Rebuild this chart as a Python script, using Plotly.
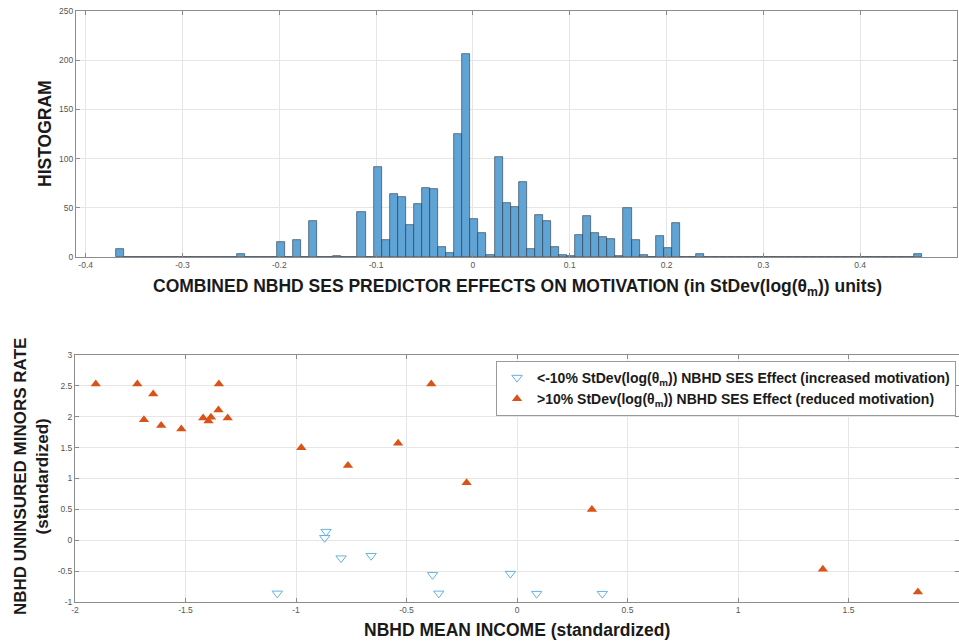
import plotly.graph_objects as go

# ---------------- data ----------------
# Histogram: 100 equal-width bins
bin_start = -0.369
bin_width = 0.008325
hist_counts = [
    8, 0, 0, 0, 0, 0, 0, 0, 0, 0,
    0, 0, 0, 0, 0, 3, 0, 0, 0, 0,
    15, 0, 17, 0, 37, 0, 0, 1, 0, 0,
    46, 0, 91, 17, 64, 61, 33, 54, 70, 69,
    10, 4, 125, 206, 39, 24, 2, 102, 55, 51,
    76, 8, 43, 37, 10, 2, 1, 22, 42, 24,
    20, 18, 1, 50, 17, 2, 0, 21, 9, 35,
    0, 0, 3, 0, 0, 0, 0, 0, 0, 0,
    0, 0, 0, 0, 0, 0, 0, 0, 0, 0,
    0, 0, 0, 0, 0, 0, 0, 0, 0, 3,
]

# Scatter: increased motivation (blue, down triangles)
inc_income = [-1.085, -0.864, -0.870, -0.796, -0.660, -0.382, -0.354, -0.030, 0.089, 0.386]
inc_uninsured = [-0.86, 0.14, 0.04, -0.29, -0.25, -0.56, -0.86, -0.54, -0.865, -0.865]

# Scatter: reduced motivation (orange, up triangles)
red_income = [-1.906, -1.718, -1.646, -1.688, -1.610, -1.519, -1.420, -1.396, -1.385,
              -1.349, -1.351, -1.309, -0.976, -0.765, -0.538, -0.388, -0.228, 0.339,
              1.384, 1.814]
red_uninsured = [2.53, 2.53, 2.37, 1.95, 1.86, 1.80, 1.98, 1.93, 1.99,
                 2.53, 2.11, 1.98, 1.50, 1.21, 1.57, 2.53, 0.93, 0.50,
                 -0.47, -0.84]

# tick labels
hist_xticks = [-0.4, -0.3, -0.2, -0.1, 0, 0.1, 0.2, 0.3, 0.4, 0.5]
hist_xlabels = ["-0.4", "-0.3", "-0.2", "-0.1", "0", "0.1", "0.2", "0.3", "0.4", "0.5"]
hist_yticks = [0, 50, 100, 150, 200, 250]
sc_xticks = [-2, -1.5, -1, -0.5, 0, 0.5, 1, 1.5, 2]
sc_xlabels = ["-2", "-1.5", "-1", "-0.5", "0", "0.5", "1", "1.5", "2"]
sc_yticks = [-1, -0.5, 0, 0.5, 1, 1.5, 2, 2.5, 3]
sc_ylabels = ["-1", "-0.5", "0", "0.5", "1", "1.5", "2", "2.5", "3"]

legend_inc = "<b>&lt;-10% StDev(log(θ<sub>m</sub>)) NBHD SES Effect (increased motivation)</b>"
legend_red = "<b>&gt;10% StDev(log(θ<sub>m</sub>)) NBHD SES Effect (reduced motivation)</b>"

# ---------------- figure ----------------
W, H = 959, 642
FONT = "Liberation Sans, Arial, sans-serif"
GRID = "#e6e6e6"
AXLINE = "#8c8c8c"
TICKFONT = dict(family=FONT, size=8.5, color="#555555")

bin_centers = [bin_start + (i + 0.5) * bin_width for i in range(len(hist_counts))]

fig = go.Figure()
fig.add_trace(go.Bar(
    x=bin_centers, y=hist_counts, width=bin_width,
    marker=dict(color="rgb(96,164,213)", line=dict(color="rgba(35,50,65,0.85)", width=0.7)),
    showlegend=False, xaxis="x", yaxis="y",
))
fig.add_trace(go.Scatter(
    x=inc_income, y=inc_uninsured, mode="markers", name=legend_inc,
    marker=dict(symbol="triangle-down-open", size=9, color="rgb(100,178,226)",
                line=dict(width=1)),
    xaxis="x2", yaxis="y2",
))
fig.add_trace(go.Scatter(
    x=red_income, y=red_uninsured, mode="markers", name=legend_red,
    marker=dict(symbol="triangle-up", size=9, color="rgb(217,83,25)"),
    xaxis="x2", yaxis="y2",
))

common_axis = dict(
    showgrid=True, gridcolor=GRID, gridwidth=1,
    showline=True, linecolor=AXLINE, linewidth=1, mirror="ticks",
    ticks="inside", ticklen=4, tickcolor=AXLINE,
    tickfont=TICKFONT, zeroline=False, automargin=False,
)

fig.update_layout(
    width=W, height=H,
    margin=dict(l=0, r=0, t=0, b=0, autoexpand=False),
    paper_bgcolor="white", plot_bgcolor="white",
    font=dict(family=FONT),
    bargap=0,
    xaxis=dict(domain=[76 / W, 957 / W], range=[-0.41, 0.5],
               tickvals=hist_xticks, ticktext=hist_xlabels, anchor="y", **common_axis),
    yaxis=dict(domain=[1 - 257 / H, 1 - 11 / H], range=[0, 250],
               tickvals=hist_yticks, anchor="x", **common_axis),
    xaxis2=dict(domain=[75 / W, 1.0], range=[-2, 2],
                tickvals=sc_xticks, ticktext=sc_xlabels, anchor="y2", **common_axis),
    yaxis2=dict(domain=[1 - 602 / H, 1 - 355 / H], range=[-1, 3],
                tickvals=sc_yticks, ticktext=sc_ylabels, anchor="x2", **common_axis),
    legend=dict(
        x=496 / W, y=1 - 361 / H, xanchor="left", yanchor="top",
        bgcolor="white", bordercolor="#9a9a9a", borderwidth=1,
        font=dict(family=FONT, size=14, color="#1a1a1a"),
        itemwidth=30,
    ),
)

TITLE_FONT = dict(family=FONT, size=17.5, color="#1a1a1a")
fig.add_annotation(
    text="<b>COMBINED NBHD SES PREDICTOR EFFECTS ON MOTIVATION (in StDev(log(θ<sub>m</sub>)) units)</b>",
    xref="paper", yref="paper", x=517 / W, y=1 - 287 / H,
    xanchor="center", yanchor="middle", showarrow=False, font=TITLE_FONT,
)
fig.add_annotation(
    text="<b>HISTOGRAM</b>", textangle=-90,
    xref="paper", yref="paper", x=45 / W, y=1 - 134 / H,
    xanchor="center", yanchor="middle", showarrow=False, font=TITLE_FONT,
)
fig.add_annotation(
    text="<b>NBHD MEAN INCOME (standardized)</b>",
    xref="paper", yref="paper", x=517 / W, y=1 - 630 / H,
    xanchor="center", yanchor="middle", showarrow=False, font=TITLE_FONT,
)
fig.add_annotation(
    text="<b>NBHD UNINSURED MINORS RATE<br>(standardized)</b>", textangle=-90,
    xref="paper", yref="paper", x=31 / W, y=1 - 477 / H,
    xanchor="center", yanchor="middle", showarrow=False,
    font=dict(family=FONT, size=17, color="#1a1a1a"),
)

fig.write_html("out.html", config={"displayModeBar": False},
               post_script="document.body.style.margin='0';")
